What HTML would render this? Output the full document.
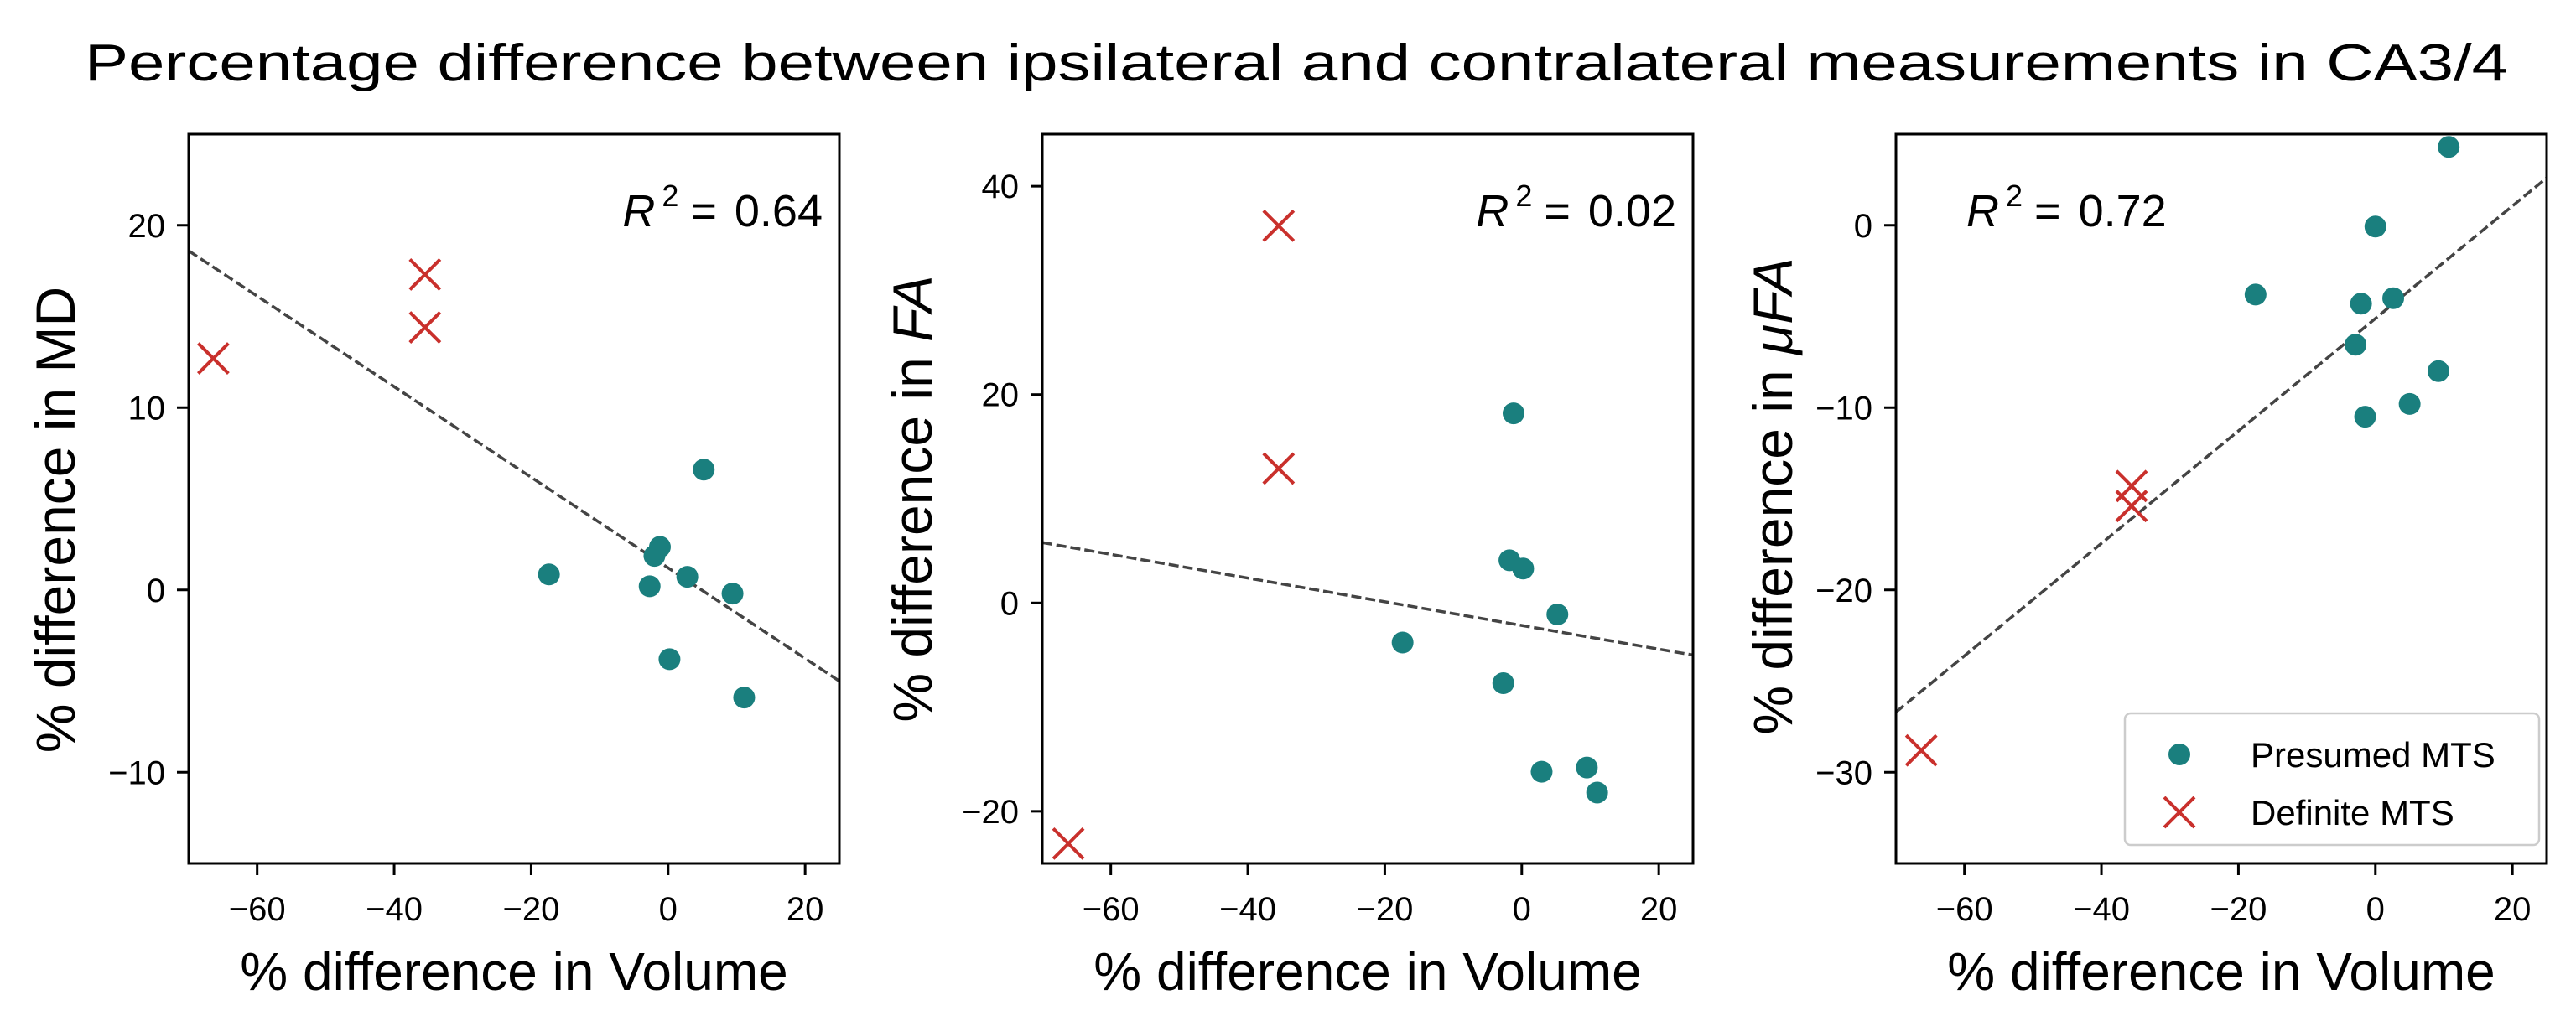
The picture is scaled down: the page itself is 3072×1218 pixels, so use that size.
<!DOCTYPE html>
<html><head><meta charset="utf-8"><style>
html,body{margin:0;padding:0;background:#fff;}
svg{display:block;font-family:"Liberation Sans",Arial,sans-serif;}
</style></head><body>
<svg id="fig" width="3072" height="1218" viewBox="0 0 3072 1218" xmlns="http://www.w3.org/2000/svg">
<text x="1546" y="96" font-size="62" text-anchor="middle" textLength="2890" lengthAdjust="spacingAndGlyphs">Percentage difference between ipsilateral and contralateral measurements in CA3/4</text>
</svg>
<script>
const xTicks = [-60,-40,-20,0,20];
// Panel 1: MD
const mdPresX = [-17.4,5.2,-1.2,-2.0,-2.7,2.8,9.4,0.2,11.1];
const mdPresY = [0.85,6.6,2.36,1.87,0.2,0.72,-0.2,-3.8,-5.9];
const mdDefX = [-66.4,-35.5,-35.5];
const mdDefY = [12.7,17.3,14.4];
const mdFit = [18.6,-5.0];
const mdTicks = [-10,0,10,20];
// Panel 2: FA
const faPresX = [-1.2,-1.8,0.2,5.2,-17.4,-2.7,2.9,9.5,11.0];
const faPresY = [18.2,4.1,3.3,-1.1,-3.8,-7.7,-16.2,-15.8,-18.2];
const faDefX = [-35.5,-35.5,-66.2];
const faDefY = [36.2,12.9,-23.1];
const faFit = [5.8,-5.0];
const faTicks = [-20,0,20,40];
// Panel 3: uFA
const ufaPresX = [10.7,0.0,-17.5,-2.1,2.6,-2.9,9.2,5.0,-1.5];
const ufaPresY = [4.3,-0.07,-3.8,-4.3,-4.0,-6.55,-8.0,-9.8,-10.5];
const ufaDefX = [-35.6,-35.6,-66.3];
const ufaDefY = [-14.3,-15.4,-28.8];
const ufaFit = [-26.7,2.6];
const ufaTicks = [-30,-20,-10,0];
const r2Values = ["0.64","0.02","0.72"];

const NS="http://www.w3.org/2000/svg";
const svg=document.getElementById('fig');
function mk(tag,attrs,parent){const e=document.createElementNS(NS,tag);for(const k in attrs)e.setAttribute(k,attrs[k]);(parent||svg).appendChild(e);return e;}

const panels=[
 {left:225,ylim:[-15,25],px:mdPresX,py:mdPresY,dx:mdDefX,dy:mdDefY,fit:mdFit,ticks:mdTicks,lab:'MD',italic:false,r2:r2Values[0],r2pos:'right',ylabX:65,ylabC:620,name:'md'},
 {left:1243,ylim:[-25,45],px:faPresX,py:faPresY,dx:faDefX,dy:faDefY,fit:faFit,ticks:faTicks,lab:'FA',italic:true,r2:r2Values[1],r2pos:'right',ylabX:1087,ylabC:595,name:'fa'},
 {left:2261,ylim:[-35,5],px:ufaPresX,py:ufaPresY,dx:ufaDefX,dy:ufaDefY,fit:ufaFit,ticks:ufaTicks,lab:'μFA',italic:true,r2:r2Values[2],r2pos:'left',ylabX:2113,ylabC:592,name:'ufa'}
];
const TOP=160,BOT=1030,W=776,XL=[-70,25];
panels.forEach((p,i)=>{
 const g=mk('g',{});
 
 
 const xs=v=>p.left+(v-XL[0])/(XL[1]-XL[0])*W;
 const ys=v=>BOT-(v-p.ylim[0])/(p.ylim[1]-p.ylim[0])*(BOT-TOP);
 const cp=mk('clipPath',{id:'cp'+i},g);mk('rect',{x:p.left,y:TOP,width:W,height:BOT-TOP},cp);
 const plot=mk('g',{'clip-path':'url(#cp'+i+')'},g);
 const fl=mk('line',{x1:xs(XL[0]),y1:ys(p.fit[0]),x2:xs(XL[1]),y2:ys(p.fit[1]),stroke:'#444','stroke-width':3.5,'stroke-dasharray':'12,5'},plot);
 
 
 p.px.forEach((x,j)=>{
  const c=mk('circle',{cx:xs(x),cy:ys(p.py[j]),r:13,fill:'#1a7f7e'},plot);
  
  
 });
 p.dx.forEach((x,j)=>{
  const cx=xs(x),cy=ys(p.dy[j]),s=18;
  const m=mk('path',{d:`M${cx-s},${cy-s}L${cx+s},${cy+s}M${cx-s},${cy+s}L${cx+s},${cy-s}`,stroke:'#c9302c','stroke-width':4,fill:'none'},plot);
  
  
 });
 mk('rect',{x:p.left,y:TOP,width:W,height:BOT-TOP,fill:'none',stroke:'#000','stroke-width':3},g);
 xTicks.forEach(t=>{
  const x=xs(t);
  mk('line',{x1:x,y1:BOT,x2:x,y2:BOT+14,stroke:'#000','stroke-width':3},g);
  const tl=mk('text',{x:x,y:BOT+68,'font-size':40,'text-anchor':'middle'},g);
  tl.textContent=(t<0?'\u2212'+(-t):t);
  
  
 });
 p.ticks.forEach(t=>{
  const y=ys(t);
  mk('line',{x1:p.left-14,y1:y,x2:p.left,y2:y,stroke:'#000','stroke-width':3},g);
  const tl=mk('text',{x:p.left-28,y:y+14,'font-size':40,'text-anchor':'end'},g);
  tl.textContent=(t<0?'\u2212'+(-t):t);
  
  
 });
 const xl=mk('text',{x:p.left+W/2,y:1181,'font-size':64,'text-anchor':'middle'},g);
 xl.textContent='% difference in Volume';
 
 
 const bx=p.ylabX+24, cy=p.ylabC;
 const yl=mk('text',{x:bx,y:cy,'font-size':66,'text-anchor':'middle',transform:`rotate(-90 ${bx} ${cy})`},g);
 
 
 yl.appendChild(document.createTextNode('% difference in '));
 const ts=mk('tspan',{'font-style':p.italic?'italic':'normal'},yl);ts.textContent=p.lab;
 const rx=p.r2pos==='right'?p.left+W-20:p.left+84;
 const r2=mk('text',{x:rx,y:270,'font-size':54,'text-anchor':p.r2pos==='right'?'end':'start'},g);
 
 
 const a=mk('tspan',{'font-style':'italic'},r2);a.textContent='R';
 const b=mk('tspan',{'font-size':36,dy:-24,dx:8},r2);b.textContent='2';
 const c=mk('tspan',{dy:24,dx:14},r2);c.textContent='= '+p.r2;
 c.setAttribute('word-spacing','6');
});
// legend
const lg=mk('g',{});


mk('rect',{x:2534,y:851,width:494,height:157,rx:7,fill:'#fff',stroke:'#ccc','stroke-width':2.5},lg);
mk('circle',{cx:2599,cy:900,r:13,fill:'#1a7f7e'},lg);
mk('path',{d:'M2581,951L2617,987M2581,987L2617,951',stroke:'#c9302c','stroke-width':4},lg);
const l1=mk('text',{x:2684,y:915,'font-size':42},lg);l1.textContent='Presumed MTS';


const l2=mk('text',{x:2684,y:984,'font-size':42},lg);l2.textContent='Definite MTS';


</script>
</body></html>
